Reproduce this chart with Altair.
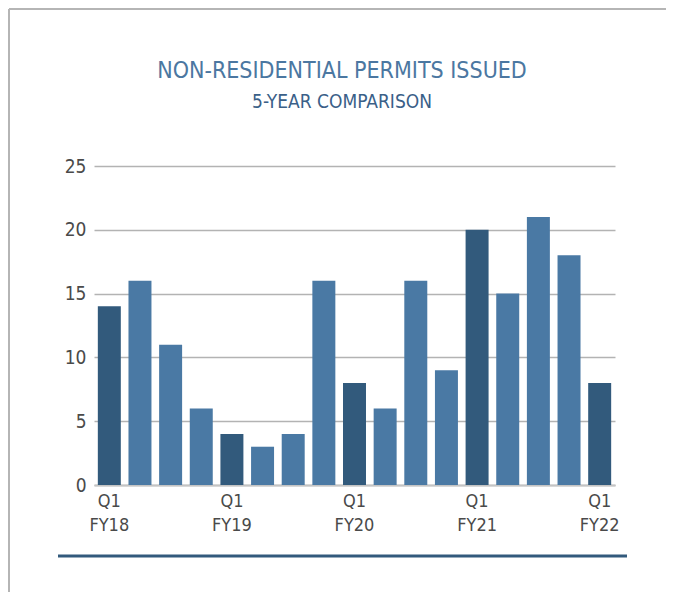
import altair as alt
import pandas as pd

quarters = ["Q1 FY18", "Q2 FY18", "Q3 FY18", "Q4 FY18",
            "Q1 FY19", "Q2 FY19", "Q3 FY19", "Q4 FY19",
            "Q1 FY20", "Q2 FY20", "Q3 FY20", "Q4 FY20",
            "Q1 FY21", "Q2 FY21", "Q3 FY21", "Q4 FY21",
            "Q1 FY22"]
permits = [14, 16, 11, 6, 4, 3, 4, 16, 8, 6, 16, 9, 20, 15, 21, 18, 8]
y_ticks = [0, 5, 10, 15, 20, 25]

title_text = "NON-RESIDENTIAL PERMITS ISSUED"
subtitle_text = "5-YEAR COMPARISON"

DARK = "#325a7c"
LIGHT = "#4a79a4"
FONT = "DejaVu Sans Condensed, sans-serif"

df = pd.DataFrame({"quarter": quarters, "permits": permits})

bars = alt.Chart(df).mark_bar().encode(
    x=alt.X("quarter:N", sort=quarters, title=None,
            scale=alt.Scale(paddingInner=0.25, paddingOuter=0.125),
            axis=alt.Axis(labelAngle=0, ticks=False, domain=True,
                          domainColor="#c4c4c4", domainWidth=2,
                          labelExpr="indexof(datum.value,'Q1')==0 ? split(datum.value,' ') : ''",
                          labelFont=FONT, labelFontSize=18, labelColor="#4a4a4a",
                          labelLineHeight=24, labelPadding=7, labelBaseline="top")),
    y=alt.Y("permits:Q", title=None,
            scale=alt.Scale(domain=[0, 25], nice=False),
            axis=alt.Axis(values=y_ticks, ticks=False, domain=False,
                          gridColor="#b3b3b3", gridWidth=1.3,
                          labelFont=FONT, labelFontSize=19, labelColor="#4a4a4a",
                          labelPadding=8)),
    color=alt.condition("indexof(datum.quarter,'Q1')==0", alt.value(DARK), alt.value(LIGHT)),
)

deco = alt.Data(values=[{"k": 1}])

bottom_line = alt.Chart(deco).mark_rule(color=DARK, strokeWidth=3).encode(
    x=alt.value(-36), x2=alt.value(533), y=alt.value(390)
)
border_top = alt.Chart(deco).mark_rule(color="#b5b5b5", strokeWidth=2).encode(
    x=alt.value(-85), x2=alt.value(572), y=alt.value(-157)
)
border_left = alt.Chart(deco).mark_rule(color="#b5b5b5", strokeWidth=2).encode(
    x=alt.value(-85), y=alt.value(-157), y2=alt.value(434)
)
title_mark = alt.Chart(deco).mark_text(
    text=title_text, font=FONT, fontSize=23, color="#4b77a1",
    align="center", baseline="alphabetic"
).encode(x=alt.value(248), y=alt.value(-88))
subtitle_mark = alt.Chart(deco).mark_text(
    text=subtitle_text, font=FONT, fontSize=19, color="#3a6088",
    align="center", baseline="alphabetic"
).encode(x=alt.value(248), y=alt.value(-58))

chart = alt.layer(bars, bottom_line, border_top, border_left,
                  title_mark, subtitle_mark).properties(
    width=521, height=319,
    autosize=alt.AutoSizeParams(type="none"),
    padding={"left": 86, "top": 158, "right": 51, "bottom": 107},
).configure_view(stroke=None)

chart.save("out.html", embed_options={"renderer": "svg", "actions": False})
